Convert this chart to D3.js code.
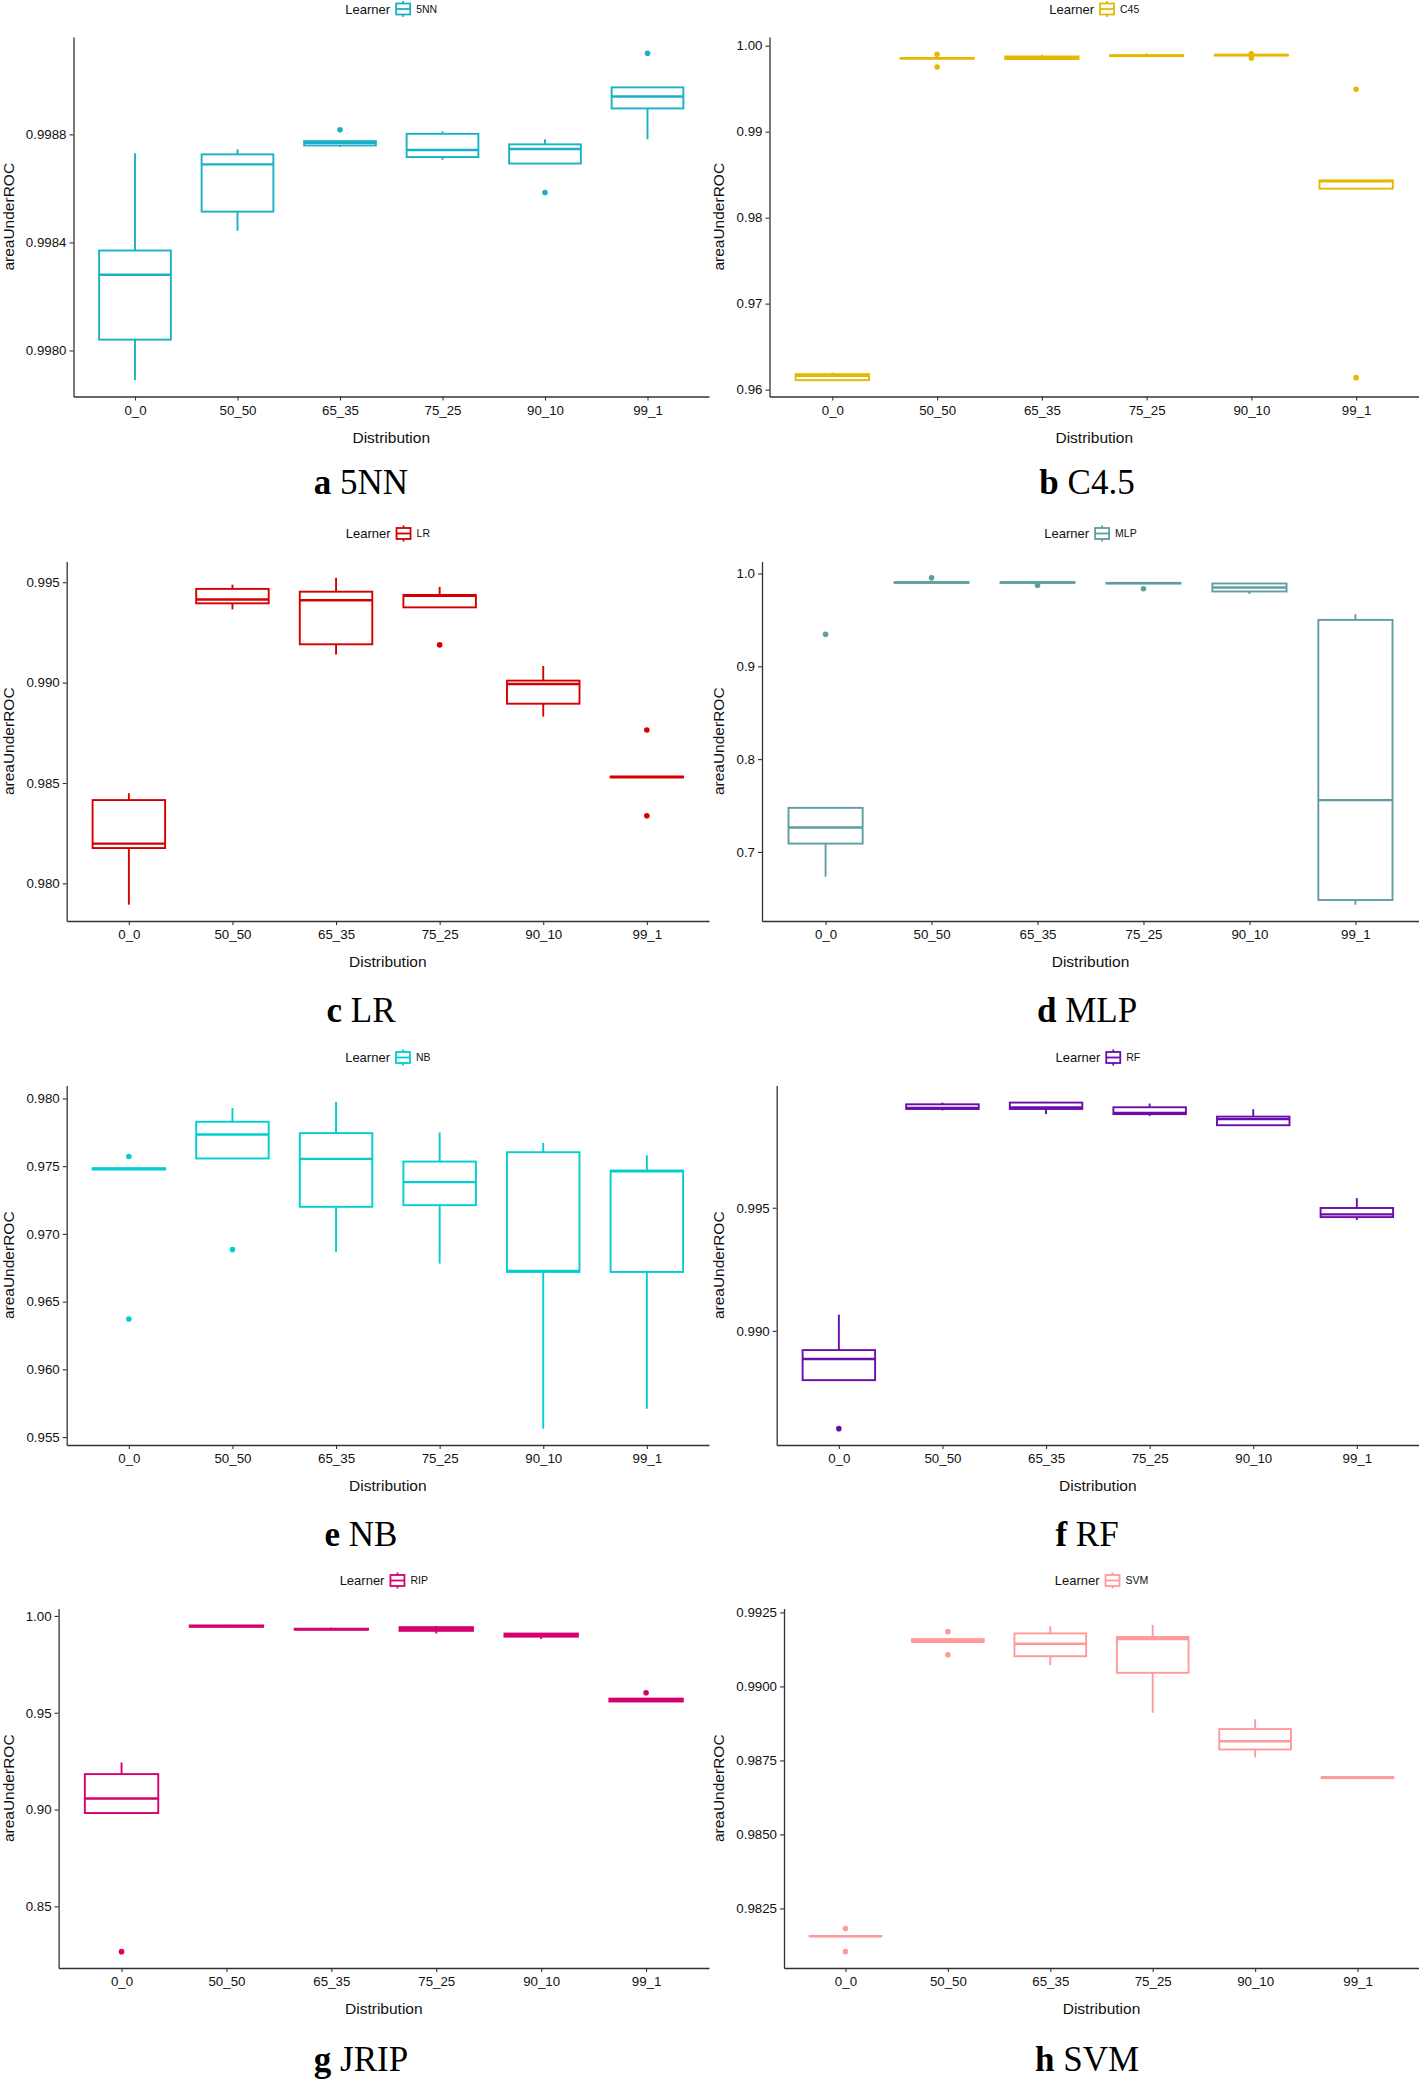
<!DOCTYPE html>
<html><head><meta charset="utf-8">
<script src="https://cdn.jsdelivr.net/npm/d3@7"></script>
<style>body{margin:0;background:#fff} svg{display:block}</style>
</head><body><svg id="c" width="1419" height="2082"></svg>
<script>
const categories = ["0_0","50_50","65_35","75_25","90_10","99_1"];

// five-number summaries per distribution: [lowWhisker, Q1, median, Q3, highWhisker]
const stats5NN = [[0.99789,0.99804,0.99828,0.99837,0.99873],[0.998443,0.998514,0.998689,0.998726,0.998745],[0.998753,0.998759,0.998769,0.998775,0.998776],[0.998706,0.998716,0.998742,0.998802,0.998811],[0.998692,0.998692,0.998746,0.998763,0.998782],[0.998782,0.998896,0.99894,0.998974,0.998974]];
const out5NN = [[],[],[0.998817],[],[0.998585],[0.9991]];
const ticks5NN = [0.9980,0.9984,0.9988];
const tickLabels5NN = ["0.9980","0.9984","0.9988"];

const statsC45 = [[0.9611,0.9611,0.9616,0.9618,0.9620],[0.99850,0.99850,0.99853,0.99857,0.99860],[0.99843,0.99845,0.99855,0.99875,0.99895],[0.99875,0.99878,0.99885,0.99890,0.99911],[0.99886,0.99886,0.99891,0.99894,0.99894],[0.98337,0.98337,0.98422,0.98434,0.98434]];
const outC45 = [[],[0.99899,0.99752],[],[],[0.99907,0.99857],[0.99492,0.96139]];
const ticksC45 = [0.96,0.97,0.98,0.99,1.00];
const tickLabelsC45 = ["0.96","0.97","0.98","0.99","1.00"];

const statsLR = [[0.97894,0.98176,0.98198,0.98415,0.98449],[0.99365,0.99395,0.99414,0.99467,0.99488],[0.9914,0.99191,0.9941,0.99453,0.99522],[0.99375,0.99375,0.99432,0.99437,0.99477],[0.98831,0.98895,0.98993,0.9901,0.99083],[0.98528,0.98528,0.9853,0.98532,0.98532]];
const outLR = [[],[],[],[0.99188],[],[0.98764,0.98337]];
const ticksLR = [0.980,0.985,0.990,0.995];
const tickLabelsLR = ["0.980","0.985","0.990","0.995"];

const statsMLP = [[0.6734,0.709,0.7263,0.7475,0.7475],[0.9898,0.9900,0.9903,0.9906,0.9908],[0.9898,0.9900,0.9903,0.9906,0.9908],[0.9890,0.9892,0.9896,0.9899,0.9901],[0.978,0.9806,0.9849,0.9892,0.9892],[0.6432,0.6482,0.7558,0.95,0.9561]];
const outMLP = [[0.9345],[0.9953],[0.9874],[0.9835],[],[]];
const ticksMLP = [0.7,0.8,0.9,1.0];
const tickLabelsMLP = ["0.7","0.8","0.9","1.0"];

const statsNB = [[0.97475,0.97475,0.9748,0.97485,0.97485],[0.97557,0.97557,0.97734,0.97828,0.97929],[0.96867,0.972,0.97554,0.97744,0.97975],[0.96781,0.97212,0.97382,0.97534,0.97749],[0.95562,0.96719,0.96727,0.97603,0.97672],[0.95709,0.96719,0.97463,0.97468,0.97581]];
const outNB = [[0.97571,0.96372],[0.96884],[],[],[],[]];
const ticksNB = [0.955,0.960,0.965,0.970,0.975,0.980];
const tickLabelsNB = ["0.955","0.960","0.965","0.970","0.975","0.980"];

const statsRF = [[0.988,0.988,0.98886,0.98922,0.99066],[0.99895,0.99901,0.99905,0.9992,0.99927],[0.9988,0.99901,0.99907,0.99927,0.9993],[0.99873,0.9988,0.99885,0.99908,0.99923],[0.99835,0.99835,0.9986,0.9987,0.999],[0.9945,0.99462,0.99473,0.99499,0.99539]];
const outRF = [[0.98603],[],[],[],[],[]];
const ticksRF = [0.990,0.995];
const tickLabelsRF = ["0.990","0.995"];

const statsRIP = [[0.8982,0.8982,0.9057,0.9183,0.9243],[0.9944,0.9944,0.9947,0.9951,0.9954],[0.9928,0.9929,0.9931,0.9934,0.9940],[0.9909,0.9923,0.9931,0.9942,0.9948],[0.9881,0.9893,0.9902,0.9909,0.9909],[0.9558,0.9558,0.9567,0.9573,0.9573]];
const outRIP = [[0.8266],[],[],[],[],[0.9603]];
const ticksRIP = [0.85,0.90,0.95,1.00];
const tickLabelsRIP = ["0.85","0.90","0.95","1.00"];

const statsSVM = [[0.98156,0.98156,0.98156,0.98157,0.98157],[0.9915,0.9915,0.99154,0.9916,0.9916],[0.99072,0.99102,0.99144,0.99179,0.99203],[0.98911,0.99046,0.9916,0.99167,0.99208],[0.9876,0.98787,0.98815,0.98856,0.98889],[0.9869,0.9869,0.98692,0.98694,0.98694]];
const outSVM = [[0.98182,0.98104],[0.99185,0.99107],[],[],[],[]];
const ticksSVM = [0.9825,0.9850,0.9875,0.9900,0.9925];
const tickLabelsSVM = ["0.9825","0.9850","0.9875","0.9900","0.9925"];

const learnerNames = ["5NN","C45","LR","MLP","NB","RF","RIP","SVM"];
const captionLetters = ["a","b","c","d","e","f","g","h"];
const captionNames = ["5NN","C4.5","LR","MLP","NB","RF","JRIP","SVM"];

const panels = [
  {stats:stats5NN,outs:out5NN,ticks:ticks5NN,labels:tickLabels5NN,color:"#19B2C5",left:73.5,row:0,col:0},
  {stats:statsC45,outs:outC45,ticks:ticksC45,labels:tickLabelsC45,color:"#E7B800",left:769.5,row:0,col:1},
  {stats:statsLR,outs:outLR,ticks:ticksLR,labels:tickLabelsLR,color:"#D40000",left:66.7,row:1,col:0},
  {stats:statsMLP,outs:outMLP,ticks:ticksMLP,labels:tickLabelsMLP,color:"#5F9EA0",left:762,row:1,col:1},
  {stats:statsNB,outs:outNB,ticks:ticksNB,labels:tickLabelsNB,color:"#00CED1",left:66.7,row:2,col:0},
  {stats:statsRF,outs:outRF,ticks:ticksRF,labels:tickLabelsRF,color:"#6A0DAD",left:776.7,row:2,col:1},
  {stats:statsRIP,outs:outRIP,ticks:ticksRIP,labels:tickLabelsRIP,color:"#D6006E",left:58.6,row:3,col:0},
  {stats:statsSVM,outs:outSVM,ticks:ticksSVM,labels:tickLabelsSVM,color:"#FF9A9A",left:784,row:3,col:1}
];

const svg = d3.select("#c");
const rowTop = [37, 561.5, 1085.5, 1608.5];
const plotH = 359.5;
const capY = [494, 1021.5, 1546, 2071];
const colStart = [0, 710];
const colRight = [709, 1419];
const capX = [361, 1087];
const sans = "'Liberation Sans', Arial, Helvetica, sans-serif";
const serif = "'Liberation Serif', 'Times New Roman', serif";

panels.forEach((p, k) => {
  const top = rowTop[p.row], bottom = top + plotH;
  const left = p.left, right = colRight[p.col];
  const vals = p.stats.flat().concat(p.outs.flat());
  const [mn, mx] = d3.extent(vals);
  const pad = (mx - mn) * 0.05;
  const y = d3.scaleLinear().domain([mn - pad, mx + pad]).range([bottom, top]);
  const x = d3.scalePoint().domain(categories).range([left, right]).padding(0.6);
  const bw = x.step() * 0.7;
  const g = svg.append("g");

  // axes
  const ya = g.append("g").attr("transform", `translate(${left},0)`)
    .call(d3.axisLeft(y).tickValues(p.ticks).tickFormat((d, i) => p.labels[i]).tickSize(4).tickSizeOuter(0).tickPadding(3));
  const xa = g.append("g").attr("transform", `translate(0,${bottom})`)
    .call(d3.axisBottom(x).tickSize(4).tickSizeOuter(0).tickPadding(5));
  [ya, xa].forEach(a => {
    a.selectAll("path.domain").attr("stroke", "#333").attr("stroke-width", 1.3);
    a.selectAll(".tick line").attr("stroke", "#333").attr("stroke-width", 1.1);
    a.selectAll("text").attr("font-family", sans).attr("font-size", 13.3).attr("fill", "#111");
  });

  // boxes
  const bx = g.append("g").attr("stroke", p.color).attr("fill", "none").attr("stroke-width", 1.9);
  p.stats.forEach((s, i) => {
    const cx = x(categories[i]);
    const [lo, q1, md, q3, hi] = s;
    bx.append("line").attr("x1", cx).attr("x2", cx).attr("y1", y(hi)).attr("y2", y(q3));
    bx.append("line").attr("x1", cx).attr("x2", cx).attr("y1", y(q1)).attr("y2", y(lo));
    bx.append("rect").attr("x", cx - bw / 2).attr("width", bw)
      .attr("y", y(q3)).attr("height", Math.max(0.01, y(q1) - y(q3))).attr("fill", "#fff");
    bx.append("line").attr("x1", cx - bw / 2).attr("x2", cx + bw / 2)
      .attr("y1", y(md)).attr("y2", y(md)).attr("stroke-width", 2.4);
    p.outs[i].forEach(o => {
      g.append("circle").attr("cx", cx).attr("cy", y(o)).attr("r", 2.8).attr("fill", p.color);
    });
  });

  // axis titles
  g.append("text").attr("transform", `translate(${colStart[p.col] + 13.5},${(top + bottom) / 2}) rotate(-90)`)
    .attr("text-anchor", "middle").attr("font-family", sans).attr("font-size", 15.5).attr("fill", "#111")
    .text("areaUnderROC");
  g.append("text").attr("x", (left + right) / 2).attr("y", bottom + 46)
    .attr("text-anchor", "middle").attr("font-family", sans).attr("font-size", 15.5).attr("fill", "#111")
    .text("Distribution");

  // legend
  const lg = g.append("g");
  const lt = lg.append("text").attr("x", 0).attr("y", 4.6).attr("font-family", sans).attr("font-size", 13)
    .attr("fill", "#111").text("Learner");
  const lw = lt.node().getComputedTextLength();
  const kx = lw + 6, kw = 14;
  const key = lg.append("g").attr("stroke", p.color).attr("fill", "#fff").attr("stroke-width", 1.8);
  key.append("line").attr("x1", kx + kw / 2).attr("x2", kx + kw / 2).attr("y1", -8).attr("y2", 8);
  key.append("rect").attr("x", kx).attr("y", -5.5).attr("width", kw).attr("height", 11);
  key.append("line").attr("x1", kx).attr("x2", kx + kw).attr("y1", 0).attr("y2", 0);
  const ll = lg.append("text").attr("x", kx + kw + 6).attr("y", 3.8).attr("font-family", sans)
    .attr("font-size", 10.5).attr("fill", "#111").text(learnerNames[k]);
  const total = kx + kw + 6 + ll.node().getComputedTextLength();
  lg.attr("transform", `translate(${(left + right) / 2 - total / 2},${top - 28})`);

  // caption
  const cap = g.append("text").attr("x", capX[p.col]).attr("y", capY[p.row]).attr("text-anchor", "middle")
    .attr("font-family", serif).attr("font-size", 35).attr("fill", "#000");
  cap.append("tspan").attr("font-weight", "bold").text(captionLetters[k]);
  cap.append("tspan").text(" " + captionNames[k]);
});
</script></body></html>
